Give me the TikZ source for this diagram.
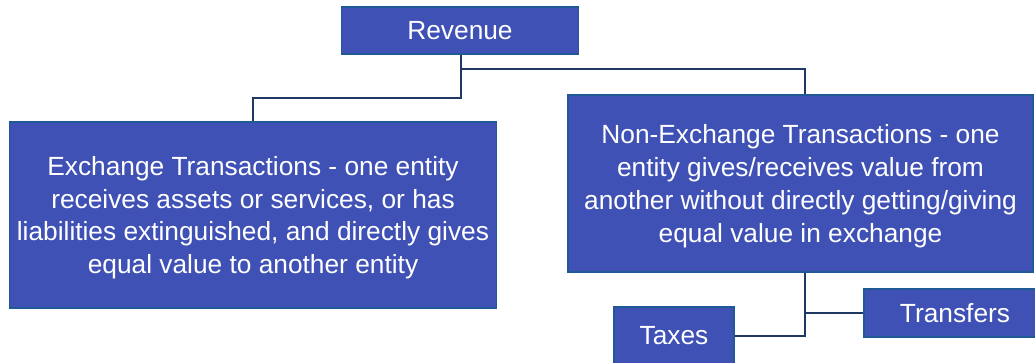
\documentclass[tikz,border=0pt]{standalone}
\usepackage{fontspec}
\setmainfont{Liberation Sans}
\definecolor{boxfill}{RGB}{63,81,181}
\definecolor{boxline}{RGB}{31,90,150}
\definecolor{connc}{RGB}{31,56,100}
\newcommand{\lowtext}[1]{\raisebox{-3pt}[\height][\depth]{\begin{tabular}{@{}c@{}}#1\end{tabular}}}
\begin{document}
\begin{tikzpicture}[x=1pt,y=-1pt,
  box/.style={draw=boxline, line width=1.2pt, fill=boxfill, text=white, align=center,
    inner sep=0pt, font=\fontsize{26.3}{32.7}\selectfont},
  conn/.style={draw=connc, line width=2pt}]
\useasboundingbox (0,0) rectangle (1035,362);
\clip (0,0) rectangle (1035,362);
\node[box, minimum width=237pt, minimum height=47pt] (rev) at (460,30.5) {Revenue};
\node[box, minimum width=487pt, minimum height=186pt] (ex) at (253,215)
  {\lowtext{Exchange Transactions - one entity\\receives assets or services, or has\\liabilities extinguished, and directly gives\\equal value to another entity}};
\node[box, minimum width=465pt, minimum height=177pt] (nonex) at (800.5,183.5)
  {\lowtext{Non-Exchange Transactions - one\\entity gives/receives value from\\another without directly getting/giving\\equal value in exchange}};
\node[box, minimum width=120pt, minimum height=58pt] (tax) at (674,336) {Taxes};
\node[box, minimum width=182pt, minimum height=48pt] (tr) at (955,313) {Transfers};
\coordinate (j1) at (461,98);
\coordinate (j2) at (461,69);
\draw[conn] ([xshift=1pt]rev.south) -- (j1) -| (ex.north);
\draw[conn] (j2) -| ([xshift=4.5pt]nonex.north);
\draw[conn] ([xshift=4.5pt]nonex.south) |- (tax.east);
\draw[conn] ([xshift=4.5pt]nonex.south) |- (tr.west);
\end{tikzpicture}
\end{document}
